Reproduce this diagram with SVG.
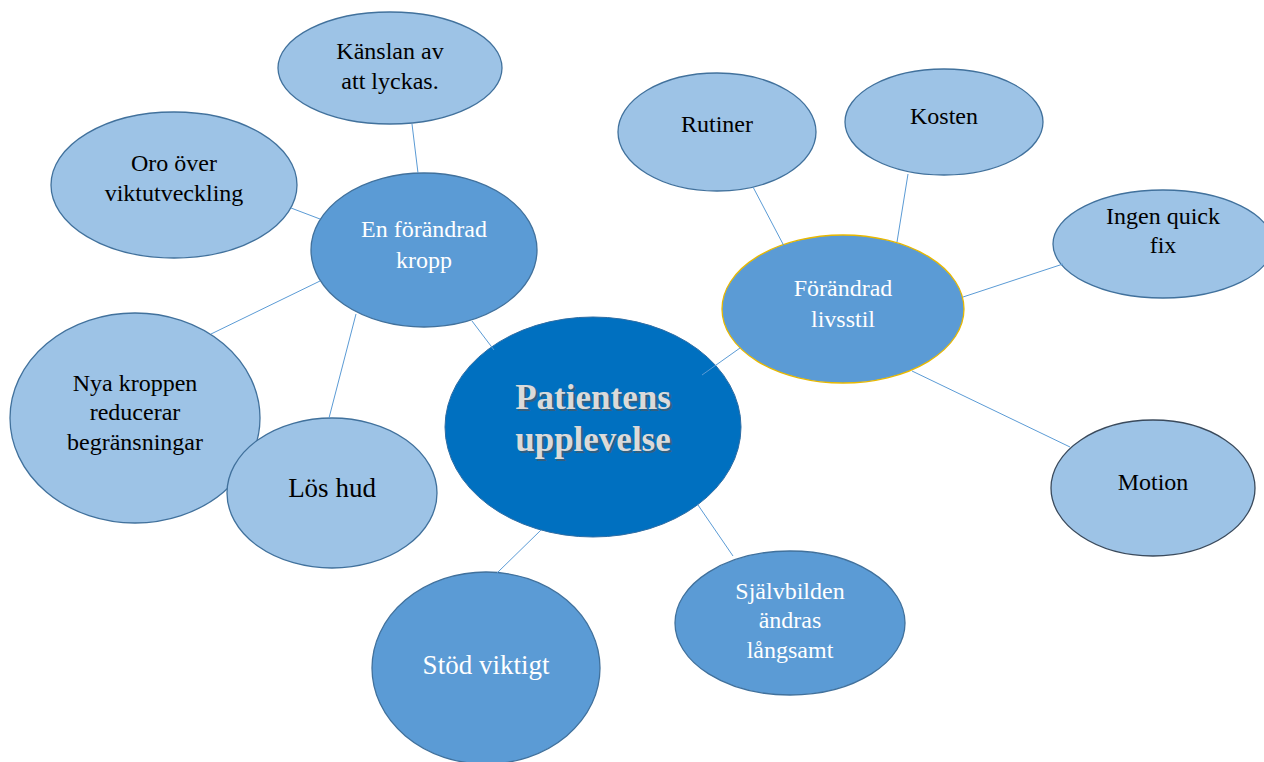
<svg xmlns="http://www.w3.org/2000/svg" width="1264" height="762" viewBox="0 0 1264 762">
<defs>
<style>
.n{stroke:#41719C;stroke-width:1.3}
.l1{fill:#9DC3E6}
.l2{fill:#5B9BD5}
.c{fill:#0070C0}
text{font-family:"Liberation Serif","Times New Roman",serif;text-anchor:middle;font-size:24px}
.b{fill:#000}
.w{fill:#fff}
.big{font-size:27px}
.ct{font-size:35px;font-weight:bold;fill:#DADADA}
.sh{font-size:35px;font-weight:bold;fill:#555;opacity:0.6}
#edges line{stroke:#5B9BD5;stroke-width:1}
</style>
</defs>
<rect width="1264" height="762" fill="#fff"/>
<g id="node-kanslan"><ellipse class="n l1" cx="390" cy="68" rx="112" ry="56"/><text class="b" x="390" y="59">Känslan av</text><text class="b" x="390" y="89">att lyckas.</text></g>
<g id="node-oro"><ellipse class="n l1" cx="174" cy="185" rx="123" ry="73"/><text class="b" x="174" y="171">Oro över</text><text class="b" x="174" y="201">viktutveckling</text></g>
<g id="node-nya"><ellipse class="n l1" cx="135" cy="418" rx="125" ry="105"/><text class="b" x="135" y="391">Nya kroppen</text><text class="b" x="135" y="420">reducerar</text><text class="b" x="135" y="450">begränsningar</text></g>
<g id="node-loshud"><ellipse class="n l1" cx="332" cy="493" rx="105" ry="75"/><text class="b big" x="332" y="497">Lös hud</text></g>
<g id="node-kropp"><ellipse class="n l2" cx="424" cy="250" rx="113" ry="77"/><text class="w" x="424" y="237">En förändrad</text><text class="w" x="424" y="268">kropp</text></g>
<g id="node-stod"><ellipse class="n l2" cx="486" cy="668" rx="114" ry="96"/><text class="w big" x="486" y="674">Stöd viktigt</text></g>
<g id="node-sjalvbild"><ellipse class="n l2" cx="790" cy="623" rx="115" ry="72"/><text class="w" x="790" y="599">Självbilden</text><text class="w" x="790" y="628">ändras</text><text class="w" x="790" y="658">långsamt</text></g>
<g id="node-rutiner"><ellipse class="n l1" cx="717" cy="132" rx="99" ry="59"/><text class="b" x="717" y="132">Rutiner</text></g>
<g id="node-kosten"><ellipse class="n l1" cx="944" cy="122" rx="99" ry="53"/><text class="b" x="944" y="124">Kosten</text></g>
<g id="node-ingen"><ellipse class="n l1" cx="1163" cy="244" rx="110" ry="54"/><text class="b" x="1163" y="224">Ingen quick</text><text class="b" x="1163" y="253">fix</text></g>
<g id="node-motion"><ellipse class="l1" stroke="#3A4A5C" stroke-width="1.3" cx="1153" cy="488" rx="102" ry="68"/><text class="b" x="1153" y="490">Motion</text></g>
<g id="node-livsstil"><ellipse class="l2" stroke="#E8B800" stroke-width="1.3" cx="843" cy="309" rx="121" ry="74"/><text class="w" x="843" y="296">Förändrad</text><text class="w" x="843" y="327">livsstil</text></g>
<g id="node-center"><ellipse class="c" stroke="#2E6DA4" stroke-width="1" cx="593" cy="427" rx="148" ry="110"/><text class="sh" x="595" y="411">Patientens</text><text class="sh" x="595" y="453">upplevelse</text><text class="ct" x="593" y="409">Patientens</text><text class="ct" x="593" y="451">upplevelse</text></g>
<g id="edges">
<line x1="412" y1="124" x2="418" y2="173"/>
<line x1="291" y1="208" x2="320" y2="219"/>
<line x1="211" y1="334" x2="320" y2="281"/>
<line x1="329" y1="418" x2="356" y2="314"/>
<line x1="472" y1="321" x2="494" y2="350"/>
<line x1="702" y1="375" x2="740" y2="348"/>
<line x1="753" y1="187" x2="784" y2="246"/>
<line x1="908" y1="174" x2="897" y2="242"/>
<line x1="1063" y1="264" x2="963" y2="297"/>
<line x1="912" y1="371" x2="1070" y2="447"/>
<line x1="541" y1="530" x2="497" y2="573"/>
<line x1="698" y1="505" x2="733" y2="556"/>
</g>
</svg>
